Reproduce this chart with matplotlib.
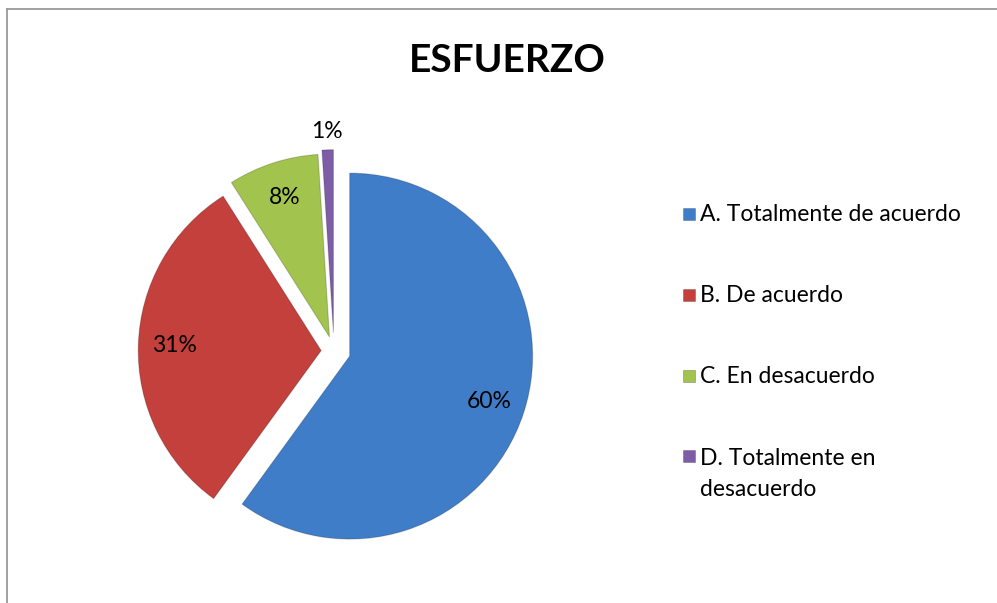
import matplotlib
matplotlib.use("Agg")
import matplotlib.pyplot as plt
from matplotlib.patches import Rectangle
from matplotlib.lines import Line2D
import numpy as np

# data
categories = ["A. Totalmente de acuerdo", "B. De acuerdo",
              "C. En desacuerdo", "D. Totalmente en\ndesacuerdo"]
values = [60, 31, 8, 1]
colors = ["#3F7DC9", "#C4403C", "#A2C44E", "#7D5EA6"]
title = "ESFUERZO"

W, H = 997, 603
plt.rcParams['font.family'] = ['Lato', 'DejaVu Sans']

fig = plt.figure(figsize=(W / 100, H / 100), dpi=100)
fig.patch.set_facecolor('white')


def fx(px):
    return px / W


def fy(py):
    return 1 - py / H


# chart frame: only left and top edges are visible
fig.add_artist(Line2D([fx(6.5), fx(6.5)], [fy(9), 0], color='#9a9a9a', lw=1.3))
fig.add_artist(Line2D([fx(6.5), 1], [fy(9), fy(9)], color='#9a9a9a', lw=1.3))

# pie axes: centre at (334, 351) px, radius 183 px
cx, cy, r = 334, 351, 183
half = 1.25 * r
ax = fig.add_axes([fx(cx - half), fy(cy + half), 2 * half / W, 2 * half / H])
ax.set_xlim(-1.25, 1.25)
ax.set_ylim(-1.25, 1.25)
ax.set_aspect('equal')
ax.axis('off')

wedges, _ = ax.pie(values, colors=colors, startangle=90, counterclock=False,
                   explode=[0.09, 0.07, 0.08, 0.1], radius=1,
                   wedgeprops=dict(edgecolor='#00000030', linewidth=0.8))

total = sum(values)
for w, v in zip(wedges, values):
    ang = np.deg2rad((w.theta1 + w.theta2) / 2)
    dist = 1.1 if v / total < 0.03 else 0.8
    x0, y0 = w.center
    ax.text(x0 + dist * np.cos(ang), y0 + dist * np.sin(ang), f"{v}%",
            ha='center', va='center', fontsize=16.5, color='black')

fig.text(fx(507), fy(60), title, ha='center', va='center',
         fontsize=28, fontweight='bold')

# legend (baseline of multi-line text sits on its last line)
leg_y = [214, 295, 376, 456]
line_h = 33
for lab, col, yy in zip(categories, colors, leg_y):
    fig.add_artist(Rectangle((fx(683), fy(yy + 6)), 12 / W, 12 / H,
                             facecolor=col, edgecolor='#00000040', lw=0.6))
    extra = lab.count("\n") * line_h
    fig.text(fx(700), fy(yy + 7 + extra), lab, ha='left', va='baseline',
             fontsize=16.5, linespacing=1.6)

fig.savefig("out.png", dpi=100, facecolor='white')
